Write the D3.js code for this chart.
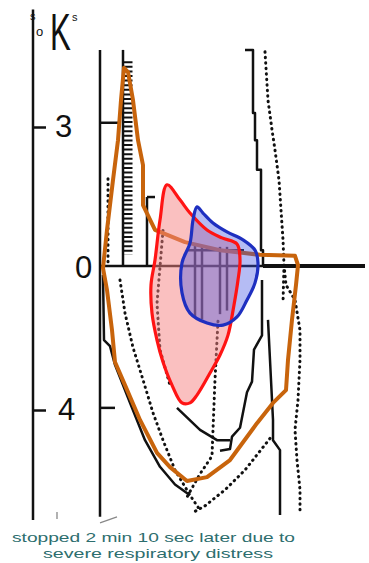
<!DOCTYPE html>
<html><head><meta charset="utf-8">
<script src="https://cdn.jsdelivr.net/npm/d3@7"></script>
<style>html,body{margin:0;padding:0;background:#fff;}svg{display:block;}</style>
</head><body>
<script>
// ---- data (x: arbitrary time units, y: %K) ----
const tickValues = [3, 0, -4];
const tickLabels = ["3", "0", "4"];
const captionLines = ["stopped 2 min 10 sec later due to", "severe respiratory distress"];

const orangeLoop = [[0.15,0],[0.35,0.81],[0.65,1.87],[0.9,2.72],[1.05,3.57],[1.2,4.26],[1.4,4.17],[1.65,3.57],[1.9,2.72],[2.15,2.19],[2.15,1.34],[2.75,0.81],[4.25,0.55],[6.0,0.38],[8.0,0.28],[9.75,0.26],[9.9,0.06],[9.8,-0.48],[9.6,-1.46],[9.4,-2.59],[9.3,-3.44],[8.65,-3.80],[7.85,-4.37],[6.5,-5.41],[5.35,-5.89],[4.35,-6.0],[3.5,-5.61],[2.85,-5.21],[2.0,-4.28],[1.25,-3.30],[0.75,-2.65],[0.6,-1.75],[0.35,-0.62]];
const redLoop = [[3.35,1.77],[4.0,1.45],[4.5,1.17],[5.35,0.81],[6.1,0.64],[6.85,0.51],[7.0,0.17],[6.9,-0.34],[6.7,-1.04],[6.4,-1.89],[6.0,-2.45],[5.5,-2.96],[4.85,-3.58],[4.5,-3.80],[4.1,-3.80],[3.6,-3.30],[3.15,-2.65],[2.85,-2.03],[2.6,-1.27],[2.55,-0.48],[2.75,0.17],[3.0,1.02]];
const blueLoop = [[4.85,1.30],[5.15,1.17],[5.65,0.96],[6.35,0.77],[7.15,0.60],[7.75,0.38],[7.9,0.11],[7.75,-0.42],[7.35,-0.90],[6.85,-1.38],[6.15,-1.61],[5.35,-1.55],[4.5,-1.27],[4.1,-0.70],[4.1,0.11],[4.5,0.53],[4.65,1.02]];

// scanned recorder traces
const axisLine = [[-3.35,5.5],[-3.35,-7.10]];
const solidTraces = [
  [[0.0,4.64],[0.0,-7.01]],
  [[0.0,3.09],[0.9,3.09]],
  [[0.0,-3.94],[0.75,-3.94]],
  [[1.15,4.64],[1.15,0.04]],
  [[2.35,1.51],[2.35,0.04]],
  [[2.35,1.51],[2.75,1.51]],
  [[7.25,4.64],[7.65,4.64],[7.65,3.30],[7.75,3.30],[7.75,2.72],[7.85,2.72],[7.85,2.09],[8.05,2.09],[8.05,0.38],[8.15,0.38],[8.15,0.04]],
  [[8.1,-0.34],[8.1,-1.9],[7.7,-2.3],[7.6,-3.2],[7.35,-3.5],[7.0,-4.5],[6.6,-4.75],[6.5,-5.1],[6.0,-5.15]],
  [[3.85,-3.94],[5.0,-4.56],[5.85,-4.85],[6.5,-4.85]],
  [[8.4,-1.46],[8.5,-2.59],[8.6,-3.72],[8.65,-4.28],[8.65,-4.85],[9.0,-5.13],[9.0,-6.96]],
  [[0.15,-0.2],[0.2,-2.03],[0.5,-2.2],[0.75,-2.73],[1.5,-3.8],[2.25,-4.85],[3.0,-5.6],[3.75,-6.1],[4.5,-6.4]],
  [[4.75,0.49],[4.75,-1.4]],
  [[5.1,0.49],[5.1,-1.45]],
  [[6.0,0.45],[6.0,-1.3]],
  [[6.35,0.45],[6.35,-1.2]],
  [[4.3,0.38],[7.2,0.38]]
];
const baseLine = [[0.0,0.04],[8.15,0.04]];
const baseLineRight = [[8.15,0.04],[13.25,0.04]];
const ladder = [[1.4,4.4],[1.4,0.28]];
const dottedTraces = [
  [[8.25,4.60],[8.4,3.57],[8.6,2.94],[8.75,2.51],[8.95,1.87],[9.05,1.23],[9.15,0.60],[9.2,0.06],[9.3,-0.48],[9.75,-0.90],[10.0,-1.75],[10.0,-2.59],[9.9,-3.72],[9.75,-4.56],[9.85,-5.41],[10.0,-6.25],[10.0,-6.90]],
  [[9.2,0.06],[9.15,-1.0]],
  [[1.0,-0.34],[1.25,-1.27],[1.65,-2.24],[2.15,-3.15],[2.65,-4.08],[3.15,-4.85],[3.75,-5.69],[4.5,-6.4],[5.0,-6.82]],
  [[5.9,-1.5],[5.75,-3.15],[5.65,-4.56],[5.6,-5.3],[5.0,-5.8],[4.3,-6.5]],
  [[8.5,-4.8],[7.25,-5.69],[6.25,-6.25],[5.25,-6.7],[4.6,-6.9]],
  [[3.15,0.8],[2.85,-1.0],[3.0,-2.3],[3.5,-3.3]],
  [[0.4,1.9],[0.4,0.1]]
];
const smallMarks = [
  [[-2.15,-6.87],[-2.15,-7.07]],
  [[0.0,-7.18],[0.85,-7.01]]
];

// ---- drawing ----
const W = 369, H = 563;
const svg = d3.select("body").append("svg").attr("width", W).attr("height", H);
svg.append("rect").attr("width", W).attr("height", H).attr("fill", "#fff");

const x = d3.scaleLinear().domain([0, 10]).range([100, 300]);
const y = d3.scaleLinear().domain([-8, 0, 5]).range([552, 268, 33]);
const line = d3.line().x(d => x(d[0])).y(d => y(d[1]));
const closedLin = d3.line().x(d => x(d[0])).y(d => y(d[1])).curve(d3.curveLinearClosed);
const closedSmooth = d3.line().x(d => x(d[0])).y(d => y(d[1])).curve(d3.curveCatmullRomClosed.alpha(0.5));

const g = svg.append("g");
g.append("path").attr("d", line(axisLine)).attr("stroke", "#111").attr("stroke-width", 2.5).attr("fill", "none");
solidTraces.forEach(t => g.append("path").attr("d", line(t)).attr("fill", "none")
  .attr("stroke", "#111").attr("stroke-width", 2.5).attr("stroke-linejoin", "round"));
g.append("path").attr("d", line(baseLine)).attr("stroke", "#111").attr("stroke-width", 2.5).attr("fill", "none");
g.append("path").attr("d", line(baseLineRight)).attr("stroke", "#111").attr("stroke-width", 4).attr("fill", "none");
g.append("path").attr("d", line(ladder)).attr("stroke", "#111").attr("stroke-width", 9)
  .attr("stroke-dasharray", "2,2.6").attr("fill", "none");
dottedTraces.forEach(t => g.append("path").attr("d", line(t)).attr("fill", "none")
  .attr("stroke", "#111").attr("stroke-width", 3).attr("stroke-dasharray", "0.5,5").attr("stroke-linecap", "round"));
smallMarks.forEach(t => g.append("path").attr("d", line(t)).attr("fill", "none")
  .attr("stroke", "#888").attr("stroke-width", 1.3));

// loops
svg.append("path").attr("d", closedLin(orangeLoop)).attr("fill", "none")
  .attr("stroke", "#c8640c").attr("stroke-width", 4).attr("stroke-linejoin", "round");
svg.append("path").attr("d", closedSmooth(redLoop)).attr("fill", "rgba(245,130,130,0.5)").attr("stroke", "none");
svg.append("path").attr("d", closedSmooth(blueLoop)).attr("fill", "rgba(60,80,225,0.38)").attr("stroke", "none");
svg.append("path").attr("d", closedSmooth(redLoop)).attr("fill", "none")
  .attr("stroke", "#ff1414").attr("stroke-width", 3.2).attr("stroke-linejoin", "round");
svg.append("path").attr("d", closedSmooth(blueLoop)).attr("fill", "none")
  .attr("stroke", "#1e2fc0").attr("stroke-width", 3.2).attr("stroke-linejoin", "round");

// y axis
const axis = d3.axisRight(y).tickValues(tickValues).tickSize(13).tickPadding(9)
  .tickFormat((d, i) => tickLabels[i]);
const ax = svg.append("g").attr("transform", `translate(${x(-3.35)},0)`).call(axis);
ax.select(".domain").remove();
ax.selectAll(".tick line").attr("stroke", "#111").attr("stroke-width", 2.5)
  .attr("opacity", d => d === 0 ? 0 : 1);
ax.selectAll(".tick text").attr("fill", "#111").attr("font-family", "Liberation Sans, Arial, sans-serif")
  .attr("font-size", 31).attr("x", d => d === 0 ? 42 : (d < 0 ? 25 : 22));

// title  %K^s
const tg = svg.append("g").attr("font-family", "Liberation Sans, Arial, sans-serif").attr("fill", "#111");
tg.append("text").attr("x", 30).attr("y", 20).attr("font-size", 11).text("s");
tg.append("text").attr("x", 36).attr("y", 36).attr("font-size", 13).text("o");
tg.append("text").attr("transform", "translate(50,50) scale(0.6,1)").attr("font-size", 52).attr("font-weight", 300).text("K");
tg.append("text").attr("x", 72).attr("y", 21).attr("font-size", 11).text("s");

// caption
svg.append("text").attr("x", 12).attr("y", 542).attr("font-family", "Liberation Sans, Arial, sans-serif")
  .attr("font-size", 13.5).attr("fill", "#2d6e6e").attr("textLength", 283).attr("lengthAdjust", "spacingAndGlyphs")
  .text(captionLines[0]);
svg.append("text").attr("x", 43).attr("y", 558).attr("font-family", "Liberation Sans, Arial, sans-serif")
  .attr("font-size", 13.5).attr("fill", "#2d6e6e").attr("textLength", 230).attr("lengthAdjust", "spacingAndGlyphs")
  .text(captionLines[1]);
</script>
</body></html>
